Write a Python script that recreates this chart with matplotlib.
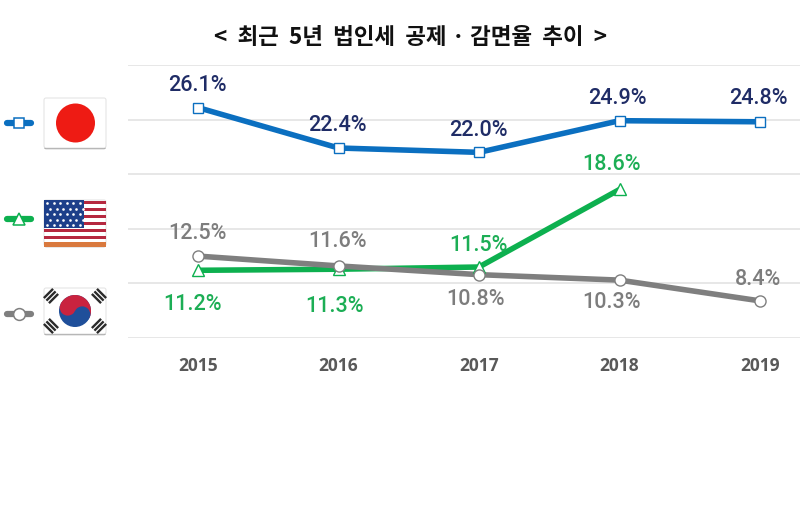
import matplotlib
matplotlib.use('Agg')
import matplotlib.pyplot as plt
from matplotlib.patches import Rectangle, Circle, Wedge, FancyBboxPatch
import numpy as np

years=[2015,2016,2017,2018,2019]
japan=[26.1,22.4,22.0,24.9,24.8]
usa=[11.2,11.3,11.5,18.6]
korea=[12.5,11.6,10.8,10.3,8.4]
yticks=[5,10,15,20,25,30]

# label offsets from the point, in pixels (x right, y up)
japan_off=[(-1,22),(-1,22),(-1,22),(-2,22),(-2,23)]
usa_off=[(-6,-34),(-4,-37),(-1,22),(-8,25)]
korea_off=[(-1,23),(-1,24),(-4,-25),(-8,-22),(-2,21)]

BLUE='#0b6fc0'
GREEN='#0db04f'
GRAY='#7f7f7f'
NAVY='#1f2c66'
LBLGREEN='#1cae55'
LBLGRAY='#7d7d7d'

fig=plt.figure(figsize=(8,5.13),dpi=100)
fig.patch.set_facecolor('white')

def px(x0,x1,y0,y1):
    return [x0/800,1-y1/513,(x1-x0)/800,(y1-y0)/513]

# chart axes, gridlines run from x=128 past the right edge
ax=fig.add_axes(px(128,800,65,338))
step=140.5
ax.set_xlim(2015-70/step,2015+602/step)
ax.set_ylim(5,30)
ax.set_yticks(yticks)
ax.set_xticks(years)
ax.set_xticklabels(years,fontsize=12.5,fontweight='bold',color='#595959',family='Open Sans')
ax.tick_params(axis='both',length=0)
ax.tick_params(axis='x',pad=14)
ax.tick_params(axis='y',labelleft=False)
ax.grid(axis='y',color='#e0e0e0',lw=1.1)
ax.set_axisbelow(True)
for s in ax.spines.values():
    s.set_visible(False)

def series(vals,col,marker,ms,offs,lblcol,z):
    xs=years[:len(vals)]
    ax.plot(xs,vals,color=col,lw=4,zorder=z,solid_capstyle='butt',clip_on=False)
    ax.plot(xs,vals,ls='none',marker=marker,ms=ms,mfc='white',mec=col,mew=1.0,zorder=z+0.5,clip_on=False)
    for x,v,o in zip(xs,vals,offs):
        ax.annotate(f'{v:.1f}%',(x,v),xytext=(o[0]*0.72,o[1]*0.72),textcoords='offset points',
                    ha='center',va='center',color=lblcol,fontsize=15.5,fontweight='medium',family='Roboto',zorder=6)

series(usa,GREEN,'^',8.5,usa_off,LBLGREEN,3)
series(korea,GRAY,'o',8,korea_off,LBLGRAY,3.2)
series(japan,BLUE,'s',7.5,japan_off,NAVY,4)

# overlay in pixel coordinates for title, legend keys and flags
ov=fig.add_axes([0,0,1,1])
ov.set_xlim(0,800)
ov.set_ylim(513,0)
ov.axis('off')
ov.patch.set_alpha(0)

ov.text(411,37,'<  최근  5년  법인세  공제 · 감면율  추이  >',ha='center',va='center',fontsize=16.2,
        fontweight='bold',color='#111111',family=['Noto Sans CJK KR','DejaVu Sans'])

def key(y,col,marker,ms):
    ov.plot([7,31],[y,y],color=col,lw=4.5,solid_capstyle='round')
    ov.plot([19],[y],marker=marker,ms=ms,mfc='white',mec=col,mew=1.1,ls='none')

key(123,BLUE,'s',7.5)
key(219,GREEN,'^',9)
key(314,GRAY,'o',8.5)

def box(x0,y0,x1,y1):
    ov.add_patch(FancyBboxPatch((x0,y0+1.2),x1-x0,y1-y0,boxstyle='round,pad=0,rounding_size=2',fc='#8f8f8f',ec='none'))
    ov.add_patch(FancyBboxPatch((x0,y0),x1-x0,y1-y0,boxstyle='round,pad=0,rounding_size=2',fc='white',ec='#e2e2e2',lw=0.7))

# japan
box(44,98,106,148)
ov.add_patch(Circle((75.5,123),19.5,fc='#ee1b14',ec='none'))

# usa
box(44,200,106,246)
for i in range(6):
    ov.add_patch(Rectangle((44,201+i*6.9),62,3.4,fc='#b5283f',ec='none'))
ov.add_patch(Rectangle((44,242),62,4.5,fc='#d9793e',ec='none'))
ov.add_patch(Rectangle((44,200),40,28,fc='#1d3f8a',ec='none'))
for row in range(5):
    for col in range(6):
        ov.plot([47+col*6.6+(row%2)*3],[203+row*5.5],marker='o',ms=1.9,color='white',mew=0,ls='none')

# korea
box(44,288,106,334)
cx,cy,rr=75,311,16
tilt=25
dx,dy=rr/2*np.cos(np.radians(tilt)),rr/2*np.sin(np.radians(tilt))
ov.add_patch(Circle((cx,cy),rr,fc='#1f4f9a',ec='none'))
ov.add_patch(Wedge((cx,cy),rr,180+tilt,360+tilt,fc='#c9233f',ec='none'))
ov.add_patch(Circle((cx-dx,cy-dy),rr/2,fc='#c9233f',ec='none'))
ov.add_patch(Circle((cx+dx,cy+dy),rr/2,fc='#1f4f9a',ec='none'))
for sx,sy in [(-1,-1),(1,-1),(-1,1),(1,1)]:
    mx,my=cx+sx*24,cy+sy*15
    d=np.array([sx,sy])/np.sqrt(2)
    n=np.array([-sy,sx])/np.sqrt(2)
    for t in (-3.6,0,3.6):
        a=np.array([mx,my])+d*t-n*6.5
        c=np.array([mx,my])+d*t+n*6.5
        ov.plot([a[0],c[0]],[a[1],c[1]],color='#2b2b2b',lw=1.7,solid_capstyle='butt')

fig.savefig('out.png',dpi=100)
